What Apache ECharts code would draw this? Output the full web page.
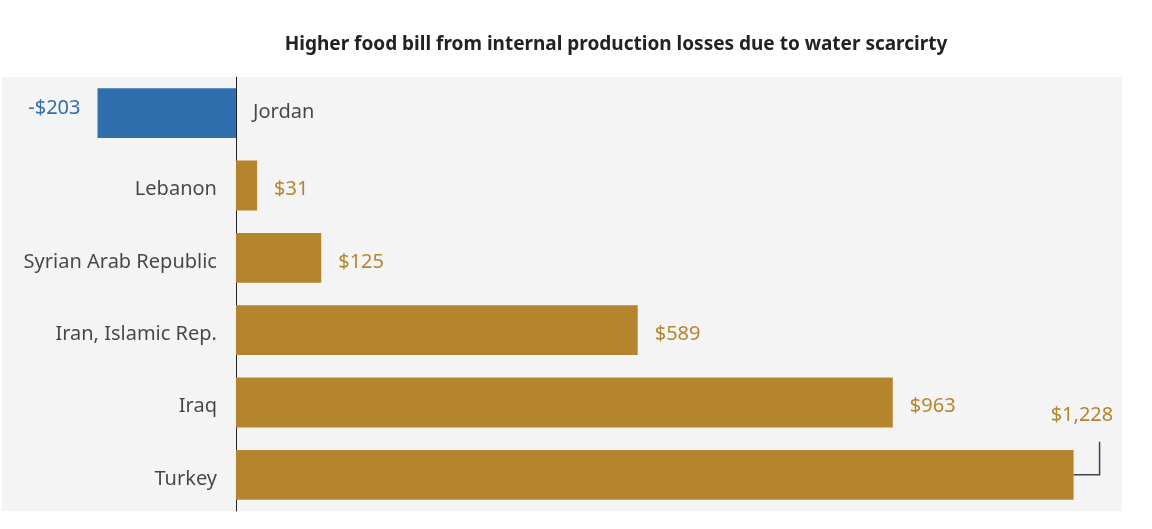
<!DOCTYPE html>
<html>
<head>
<meta charset="utf-8">
<script src="https://cdn.jsdelivr.net/npm/echarts@6/dist/echarts.min.js"></script>
<style>
  html, body { margin: 0; padding: 0; background: #fff; }
  #chart { width: 1152px; height: 529px; }
</style>
</head>
<body>
<div id="chart"></div>
<script>
var chart = echarts.init(document.getElementById('chart'));

// data
var countries = ['Jordan', 'Lebanon', 'Syrian Arab Republic', 'Iran, Islamic Rep.', 'Iraq', 'Turkey'];
var foodBill = [-203, 31, 125, 589, 963, 1228];

var gold = '#b5852e';
var blue = '#2f6fae';
var fontFamily = 'Noto Sans';

var barData = foodBill.map(function (v, i) {
    var item = { value: v };
    if (v < 0) {
        item.itemStyle = { color: blue };
        item.label = { position: 'left', color: blue, offset: [0, -5] };
    }
    if (i === countries.length - 1) {
        // label lifted above the bar end, tied back with a leader line
        item.label = { position: ['101%', -35], align: 'center', verticalAlign: 'middle', offset: [0, 0] };
    }
    return item;
});

var nameData = countries.map(function (c, i) {
    var item = { value: [0, c] };
    if (foodBill[i] < 0) {
        item.label = { position: 'right', distance: 17, offset: [0, -1] };
    }
    return item;
});

option = {
    backgroundColor: '#fff',
    title: {
        text: 'Higher food bill from internal production losses due to water scarcirty',
        left: 611,
        top: 30,
        textAlign: 'center',
        textStyle: {
            fontFamily: fontFamily,
            fontSize: 19,
            fontWeight: 'bold',
            color: '#222'
        }
    },
    grid: {
        left: 2,
        right: 30,
        top: 77,
        bottom: 18,
        show: true,
        backgroundColor: '#f4f4f4',
        borderWidth: 0
    },
    xAxis: {
        type: 'value',
        min: -343,
        max: 1299,
        show: false
    },
    yAxis: {
        type: 'category',
        inverse: true,
        data: countries,
        axisTick: { show: false },
        axisLabel: { show: false },
        axisLine: {
            show: true,
            onZero: true,
            lineStyle: { color: '#222', width: 1 }
        }
    },
    series: [{
        type: 'bar',
        data: barData,
        barWidth: '69%',
        itemStyle: { color: gold },
        label: {
            show: true,
            position: 'right',
            distance: 17,
            offset: [0, 4],
            color: gold,
            fontFamily: fontFamily,
            fontSize: 20,
            formatter: function (p) {
                var v = p.value;
                var s = '$' + Math.abs(v).toLocaleString('en-US');
                return v < 0 ? '-' + s : s;
            }
        },
        z: 1
    }, {
        type: 'scatter',
        data: nameData,
        symbolSize: 0,
        silent: true,
        label: {
            show: true,
            position: 'left',
            distance: 19,
            offset: [0, 4],
            color: '#1a1a1a',
            fontFamily: fontFamily,
            fontSize: 20,
            formatter: function (p) { return p.value[1]; }
        },
        z: 3
    }]
};

chart.setOption(option);

// leader line for the Turkey label
var last = countries.length - 1;
var end = chart.convertToPixel({ seriesIndex: 0 }, [foodBill[last], countries[last]]);
chart.setOption({
    graphic: [{
        type: 'polyline',
        shape: { points: [[end[0], end[1]], [end[0] + 26, end[1]], [end[0] + 26, end[1] - 33]] },
        style: { stroke: '#444', lineWidth: 1.5, fill: null },
        z: 10
    }]
});
</script>
</body>
</html>
